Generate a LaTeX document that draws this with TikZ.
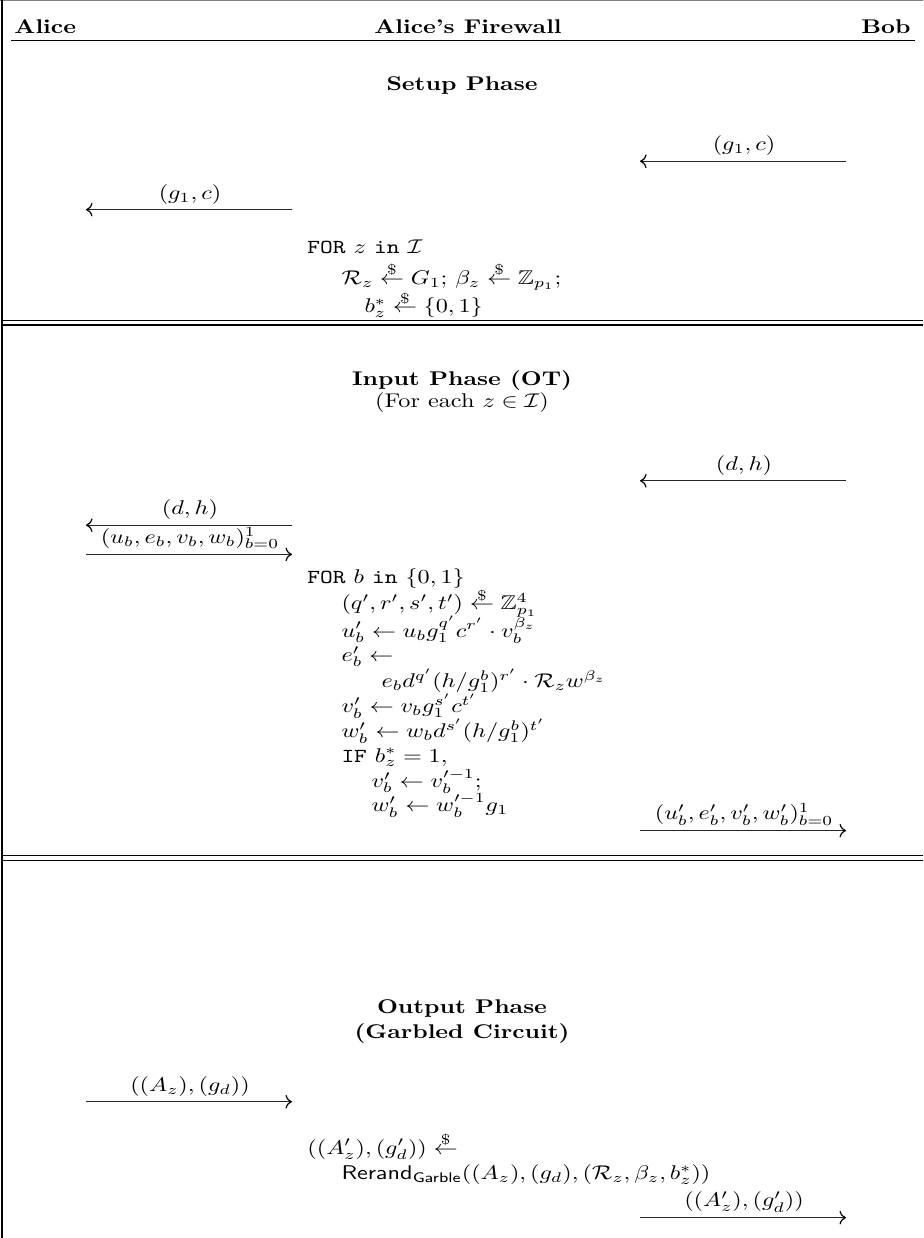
\documentclass[tikz,border=0pt]{standalone}
\usepackage{amsmath,amssymb}
\usetikzlibrary{arrows.meta}
\newcommand{\smpl}{\mathrel{\ooalign{$\leftarrow$\cr\hidewidth\raisebox{0.47em}{$\scriptstyle\$$}\hidewidth\cr}}}
\begin{document}
\begin{tikzpicture}[x=0.41322pt,y=-0.4165pt,
  tbase/.style={inner sep=0pt, yscale=0.82, transform shape},
  txt/.style={tbase, anchor=base west},
  ctr/.style={tbase, anchor=base},
  lbl/.style={tbase, anchor=south},
  msg/.style={line width=0.5pt, black!85, -{Computer Modern Rightarrow[black]}},
  rule/.style={line width=0.55pt}]
\useasboundingbox (0,0) rectangle (923,1228.2);
\draw[gray, line width=0.5pt] (0,0.6) -- (923,0.6);
\draw[line width=0.6pt] (2,0) -- (2,1228.2);
% header
\node[txt] (alice) at (14,33) {\textbf{Alice}};
\node[ctr] (fw) at (468,33) {\textbf{Alice's Firewall}};
\node[tbase, anchor=base east] (bob) at (911,33) {\textbf{Bob}};
\draw[rule] (11,40.5) -- (915,40.5);
% setup phase
\node[ctr] (setup) at (462,90) {\textbf{Setup Phase}};
\coordinate (m1s) at (846,160); \coordinate (m1e) at (640,160);
\draw[msg] (m1s) -- (m1e);
\node[lbl] (l1) at (744,155) {$(g_1,c)$};
\coordinate (m2s) at (292,208); \coordinate (m2e) at (86,208);
\draw[msg] (m2s) -- (m2e);
\node[lbl] (l2) at (190,203) {$(g_1,c)$};
\node[txt] (for1) at (307,251) {\texttt{FOR} $z$ \texttt{in} $\mathcal{I}$};
\node[txt] (s1) at (341,282) {$\mathcal{R}_z \smpl G_1;\, \beta_z \smpl \mathbb{Z}_{p_1};$};
\node[txt] (s2) at (364,310) {$b_z^* \smpl \{0,1\}$};
\draw[rule] (2,318) -- (923,318);
\draw[rule] (2,322.5) -- (923,322.5);
% input phase
\node[ctr] (inp) at (462,382) {\textbf{Input Phase (OT)}};
\node[ctr] (inp2) at (462,404) {(For each $z\in\mathcal{I}$)};
\coordinate (m3s) at (846,477); \coordinate (m3e) at (640,477);
\draw[msg] (m3s) -- (m3e);
\node[lbl] (l3) at (744,472) {$(d,h)$};
\coordinate (m4s) at (292,521); \coordinate (m4e) at (86,521);
\draw[msg] (m4s) -- (m4e);
\node[lbl] (l4) at (190,516) {$(d,h)$};
\coordinate (m5s) at (86,550); \coordinate (m5e) at (292,550);
\draw[msg] (m5s) -- (m5e);
\node[lbl] (l5) at (190,545) {$(u_b,e_b,v_b,w_b)_{b=0}^1$};
\node[txt] (for2) at (307,579) {\texttt{FOR} $b$ \texttt{in} $\{0,1\}$};
\node[txt] (i1) at (341,605) {$(q',r',s',t') \smpl \mathbb{Z}_{p_1}^4$};
\node[txt] (i2) at (341,632) {$u_b' \leftarrow u_b g_1^{q'} c^{r'} \cdot v_b^{\beta_z}$};
\node[txt] (i3) at (341,656) {$e_b' \leftarrow$};
\node[txt] (i4) at (381,682) {$e_b d^{q'} (h/g_1^b)^{r'} \cdot \mathcal{R}_z w^{\beta_z}$};
\node[txt] (i5) at (341,707) {$v_b' \leftarrow v_b g_1^{s'} c^{t'}$};
\node[txt] (i6) at (341,732) {$w_b' \leftarrow w_b d^{s'} (h/g_1^b)^{t'}$};
\node[txt] (i7) at (341,756) {\texttt{IF} $b_z^* = 1,$};
\node[txt] (i8) at (371,781) {$v_b' \leftarrow v_b'^{-1};$};
\node[txt] (i9) at (371,805) {$w_b' \leftarrow w_b'^{-1} g_1$};
\coordinate (m6s) at (640,824); \coordinate (m6e) at (846,824);
\draw[msg] (m6s) -- (m6e);
\node[lbl] (l6) at (744,819) {$(u_b',e_b',v_b',w_b')_{b=0}^1$};
\draw[rule] (2,849) -- (923,849);
\draw[rule] (2,853.5) -- (923,853.5);
% output phase
\node[ctr] (out) at (462,1005) {\textbf{Output Phase}};
\node[ctr] (out2) at (462,1030) {\textbf{(Garbled Circuit)}};
\coordinate (m7s) at (86,1093); \coordinate (m7e) at (292,1093);
\draw[msg] (m7s) -- (m7e);
\node[lbl] (l7) at (190,1088) {$((A_z),(g_d))$};
\node[txt] (o1) at (307,1145) {$((A_z'),(g_d')) \smpl$};
\node[txt] (o2) at (341,1170) {$\mathsf{Rerand}_{\mathsf{Garble}}((A_z),(g_d),(\mathcal{R}_z,\beta_z,b_z^*))$};
\coordinate (m8s) at (640,1208); \coordinate (m8e) at (846,1208);
\draw[msg] (m8s) -- (m8e);
\node[lbl] (l8) at (744,1203) {$((A_z'),(g_d'))$};
\end{tikzpicture}
\end{document}
